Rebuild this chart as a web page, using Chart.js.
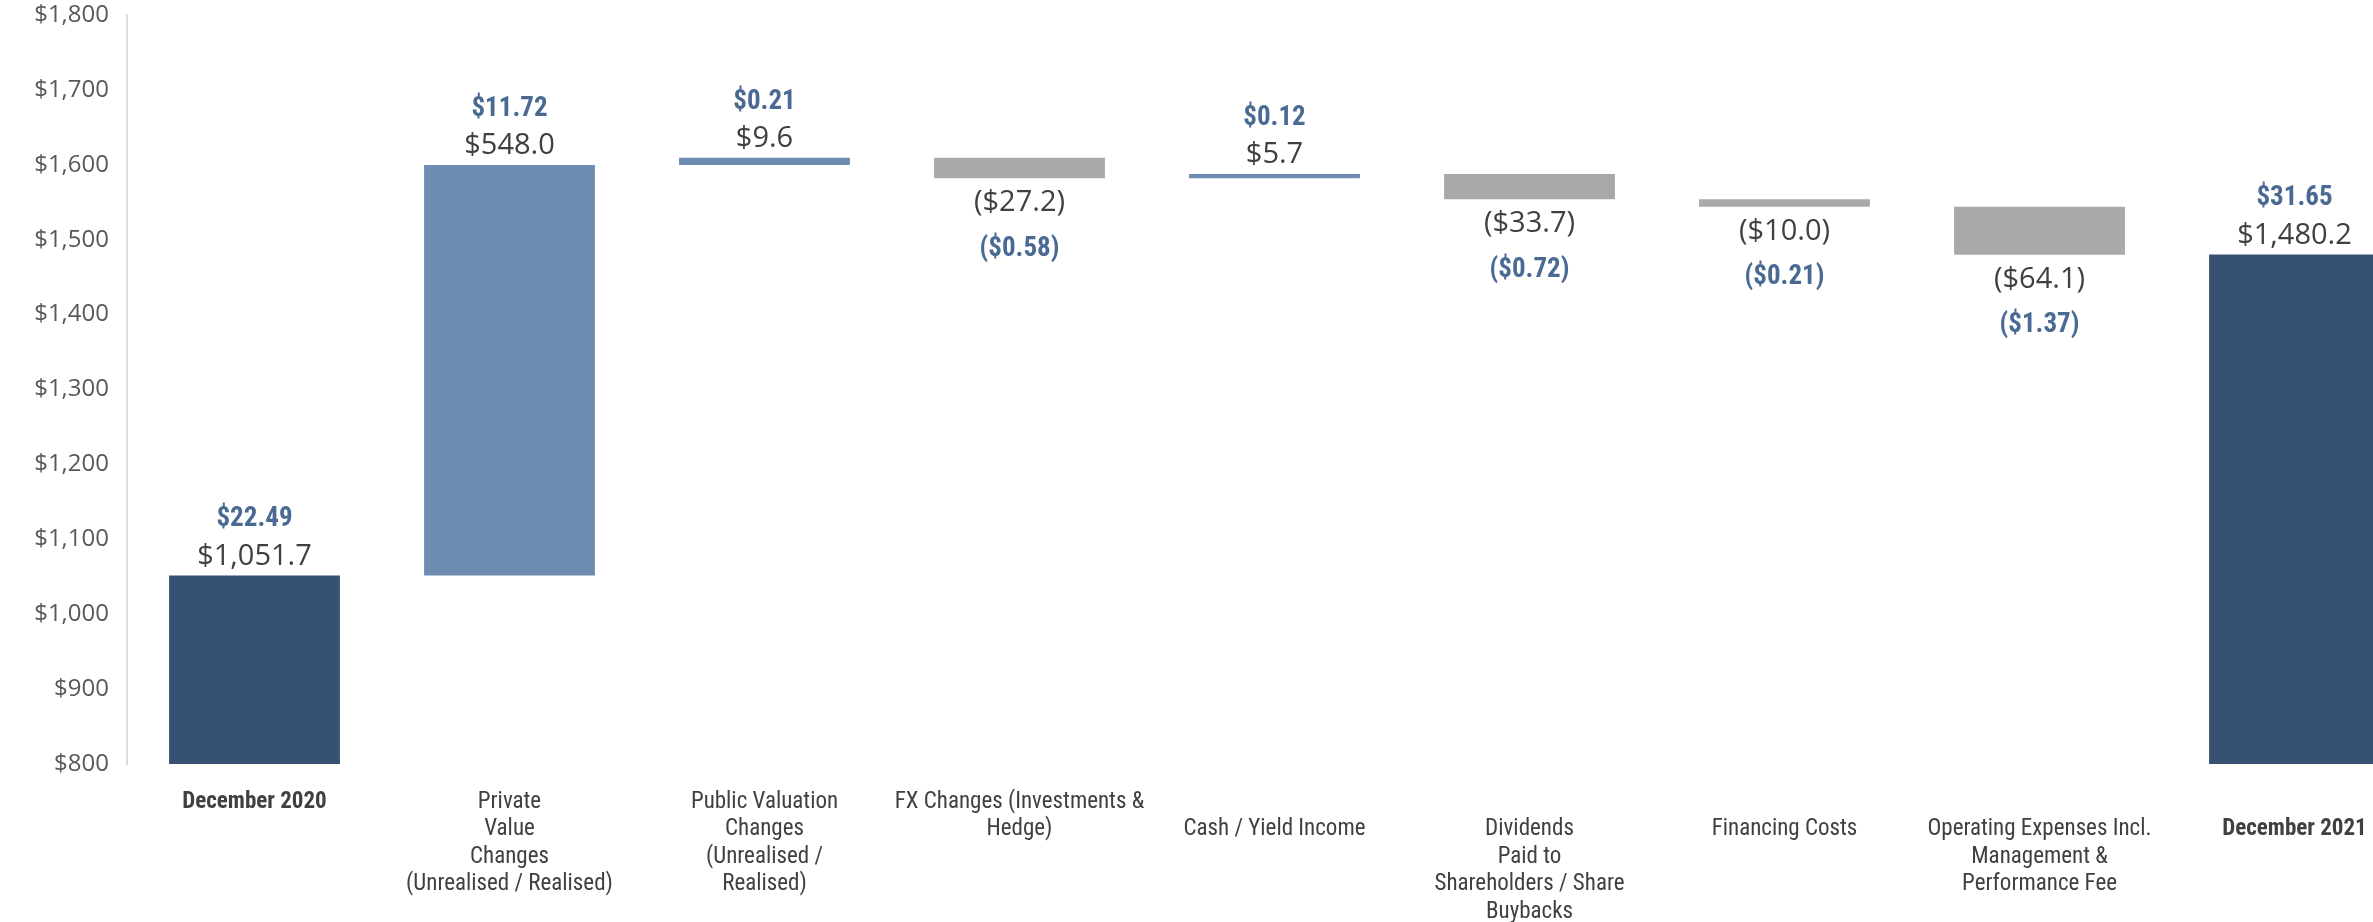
<!DOCTYPE html>
<html>
<head>
<meta charset="utf-8">
<script src="https://cdn.jsdelivr.net/npm/chart.js@4.4.1/dist/chart.umd.min.js"></script>
<style>
  html, body { margin: 0; padding: 0; background: #ffffff; overflow: hidden; }
  #wrap { position: relative; width: 2422px; height: 922px; }
</style>
</head>
<body>
<div id="wrap"><canvas id="c"></canvas></div>
<script>
// ---- data ----
const categories = [
  ["December 2020"],
  ["Private", "Value", "Changes", "(Unrealised / Realised)"],
  ["Public Valuation", "Changes", "(Unrealised /", "Realised)"],
  ["FX Changes (Investments &", "Hedge)"],
  ["", "Cash / Yield Income"],
  ["", "Dividends", "Paid to", "Shareholders / Share", "Buybacks"],
  ["", "Financing Costs"],
  ["", "Operating Expenses Incl.", "Management &", "Performance Fee"],
  ["", "December 2021"]
];
const navChanges = [1051.7, 548.0, 9.6, -27.2, 5.7, -33.7, -10.0, -64.1, 1480.2];
const perShare   = [22.49, 11.72, 0.21, -0.58, 0.12, -0.72, -0.21, -1.37, 31.65];
const barKinds   = ["total", "up", "up", "down", "up", "down", "down", "down", "total"];
const yAxisMin = 800;
const yAxisMax = 1800;
const yAxisStep = 100;

// ---- styles ----
const kindColors = { total: "#375172", up: "#6E8CB1", down: "#A9A9A9" };
const narrow = "'Roboto Condensed', 'Liberation Sans Narrow', 'DejaVu Sans Condensed', sans-serif";
const regular = "'Open Sans', 'Noto Sans', sans-serif";

// waterfall floating bars built from the changes
let running = 0;
const floatData = barKinds.map((k, i) => {
  if (k === "total") { running = navChanges[i]; return [yAxisMin, navChanges[i]]; }
  const start = running;
  running = running + navChanges[i];
  return [start, running];
});

function money(v, digits) {
  const s = "$" + Math.abs(v).toLocaleString("en-US", { minimumFractionDigits: digits, maximumFractionDigits: digits });
  return v < 0 ? "(" + s + ")" : s;
}

const labelPlugin = {
  id: "wfLabels",
  afterDatasetsDraw(chart) {
    const ctx = chart.ctx;
    const meta = chart.getDatasetMeta(0);
    ctx.save();
    ctx.textAlign = "center";
    ctx.textBaseline = "middle";
    meta.data.forEach((bar, i) => {
      const top = Math.min(bar.y, bar.base);
      const bottom = Math.max(bar.y, bar.base);
      const neg = navChanges[i] < 0;
      const vY = neg ? bottom + 25 : top - 19;
      const pY = neg ? bottom + 71 : top - 56;
      ctx.font = "29px " + regular;
      ctx.fillStyle = "#404040";
      ctx.fillText(money(navChanges[i], 1), bar.x, vY);
      ctx.font = "bold 27px " + narrow;
      ctx.fillStyle = "#4A6A94";
      ctx.fillText(money(perShare[i], 2), bar.x, pY);
    });
    ctx.restore();
  }
};

new Chart(document.getElementById("c"), {
  type: "bar",
  data: {
    labels: categories,
    datasets: [{
      data: floatData,
      backgroundColor: barKinds.map(k => kindColors[k]),
      borderWidth: 0,
      categoryPercentage: 1.0,
      barPercentage: 0.67
    }]
  },
  options: {
    responsive: true,
    maintainAspectRatio: false,
    animation: false,
    layout: { padding: { top: 15, right: 0, bottom: 0, left: 0 } },
    plugins: { legend: { display: false }, tooltip: { enabled: false } },
    scales: {
      x: {
        grid: { display: false, drawTicks: false },
        border: { display: false },
        afterFit(scale) { scale.height = 158; },
        ticks: {
          autoSkip: false,
          maxRotation: 0,
          minRotation: 0,
          padding: 24,
          color: "#404040",
          font: (c) => ({
            family: narrow,
            size: 23,
            lineHeight: 1.2,
            weight: (c.index === 0 || c.index === categories.length - 1) ? "bold" : "normal"
          })
        }
      },
      y: {
        min: yAxisMin,
        max: yAxisMax,
        grid: { display: false, drawTicks: false },
        border: { display: true, color: "#DDDDDD", width: 2 },
        afterFit(scale) {
          scale.width = 127;
          scale.paddingTop = 0;
          scale.paddingBottom = 0;
        },
        ticks: {
          stepSize: yAxisStep,
          padding: 18,
          color: "#595959",
          font: { family: regular, size: 24 },
          callback: (v) => "$" + Number(v).toLocaleString("en-US")
        }
      }
    }
  },
  plugins: [labelPlugin]
});
</script>
</body>
</html>
